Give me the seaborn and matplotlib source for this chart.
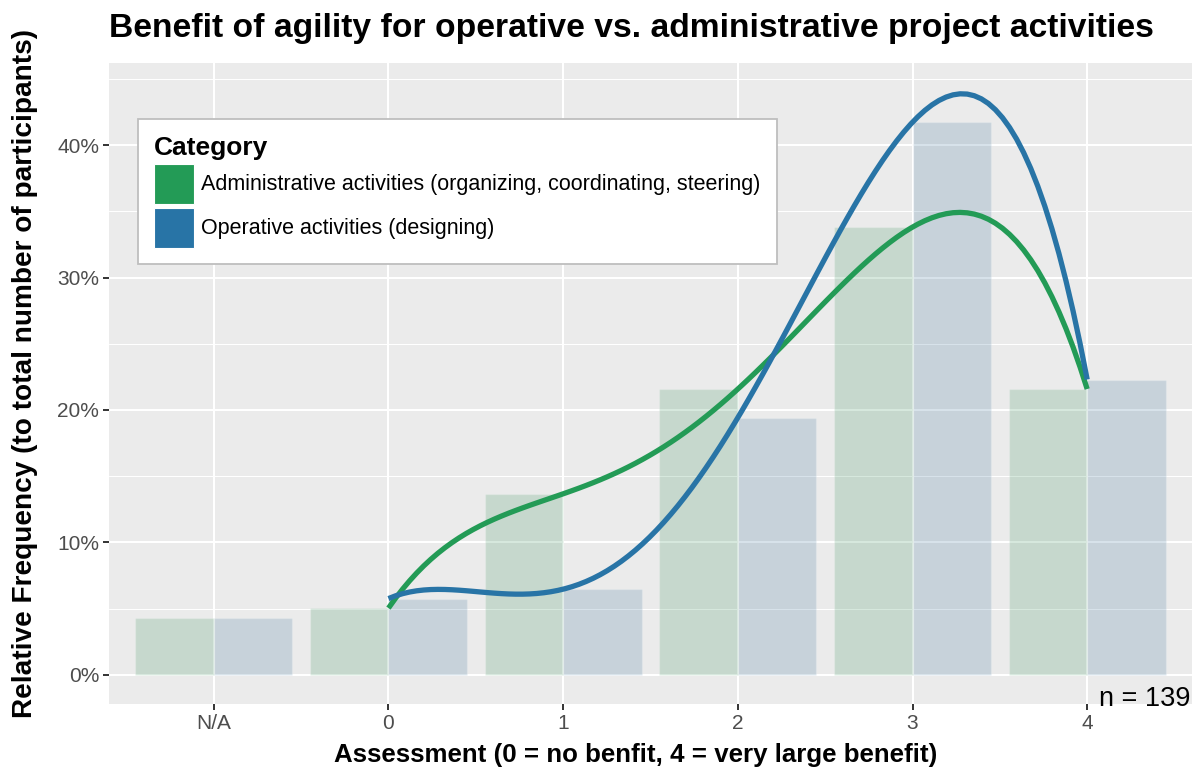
import pandas as pd
import matplotlib.pyplot as plt
import seaborn as sns
from matplotlib.ticker import PercentFormatter
from matplotlib.patches import Patch

# Data (relative frequency in %, n = 139)
assessment = ['N/A', '0', '1', '2', '3', '4']
admin_pct = [4.32, 5.04, 13.67, 21.58, 33.81, 21.58]
oper_pct = [4.32, 5.76, 6.47, 19.42, 41.73, 22.30]
cat_admin = 'Administrative activities (organizing, coordinating, steering)'
cat_oper = 'Operative activities (designing)'
n_total = 139

green = '#239B56'
blue = '#2874A6'

data = pd.DataFrame({
    'Assessment': assessment * 2,
    'Frequency': admin_pct + oper_pct,
    'Category': [cat_admin] * len(assessment) + [cat_oper] * len(assessment),
})
data['pos'] = data['Assessment'].map({a: i for i, a in enumerate(assessment)})

sns.set_style('darkgrid', {'axes.facecolor': '#EBEBEB', 'grid.color': 'white'})
plt.rcParams['font.family'] = ['Liberation Sans', 'DejaVu Sans']

fig, ax = plt.subplots(figsize=(11.92, 7.71), dpi=100)
fig.subplots_adjust(left=0.0914, right=1.0, top=0.9183, bottom=0.0869)

sns.barplot(data=data, x='Assessment', y='Frequency', hue='Category',
            order=assessment, palette=[green, blue], width=0.9, alpha=0.2,
            ax=ax, legend=False)

# smooth curve over numeric assessments (0..4)
num = data[data['Assessment'] != 'N/A']
for cat, col in [(cat_admin, green), (cat_oper, blue)]:
    sns.regplot(data=num[num['Category'] == cat], x='pos', y='Frequency',
                order=4, ci=None, scatter=False, truncate=True,
                line_kws={'color': col, 'lw': 3.8, 'solid_capstyle': 'butt'}, ax=ax)

ax.set_xlim(-0.6, 5.6)
ax.set_ylim(-2.2, 46.2)
ax.set_xticks(range(len(assessment)))
ax.set_xticklabels(assessment)
ax.set_yticks([0, 10, 20, 30, 40])
ax.set_yticks([5, 15, 25, 35, 45], minor=True)
ax.yaxis.set_major_formatter(PercentFormatter(decimals=0))
ax.grid(True, which='major', color='white', lw=1.5)
ax.grid(True, which='minor', axis='y', color='white', lw=0.75)
ax.set_axisbelow(True)
ax.tick_params(axis='both', which='major', bottom=True, left=True, length=4.5, width=1.4,
               color='#333333', labelsize=15, labelcolor='#4D4D4D', pad=2.5)
ax.tick_params(axis='y', which='minor', length=0)
for s in ax.spines.values():
    s.set_visible(False)

ax.set_title('Benefit of agility for operative vs. administrative project activities',
             fontsize=24.2, fontweight='bold', color='black', loc='left', pad=18.5)
ax.set_xlabel('Assessment (0 = no benfit, 4 = very large benefit)', fontsize=18.6,
              fontweight='bold', color='black')
ax.set_ylabel('Relative Frequency (to total number of participants)', fontsize=20.2,
              fontweight='bold', color='black')
ax.xaxis.set_label_coords(0.4866, -0.061)
ax.yaxis.set_label_coords(-0.0656, 0.5156)

ax.text(0.9985, -0.003, f'n = {n_total}', transform=ax.transAxes, ha='right', va='baseline',
        fontsize=19.5, color='black')

handles = [Patch(facecolor=green, edgecolor='white', lw=0.8),
           Patch(facecolor=blue, edgecolor='white', lw=0.8)]
leg = ax.legend(handles, [cat_admin, cat_oper], title='Category', loc='upper left',
                bbox_to_anchor=(0.0268, 0.912), fontsize=15.5, title_fontsize=19,
                frameon=True, fancybox=False, framealpha=1, facecolor='white',
                edgecolor='#BEBEBE', handlelength=1.86, handleheight=2.47,
                handletextpad=0.33, labelspacing=0.2, borderpad=0.75, borderaxespad=0)
leg.get_title().set_fontweight('bold')
leg.get_title().set_color('black')
for t in leg.get_texts():
    t.set_color('black')
leg._legend_box.align = 'left'
leg.get_frame().set_linewidth(1.3)

plt.savefig('out.png', dpi=100)
